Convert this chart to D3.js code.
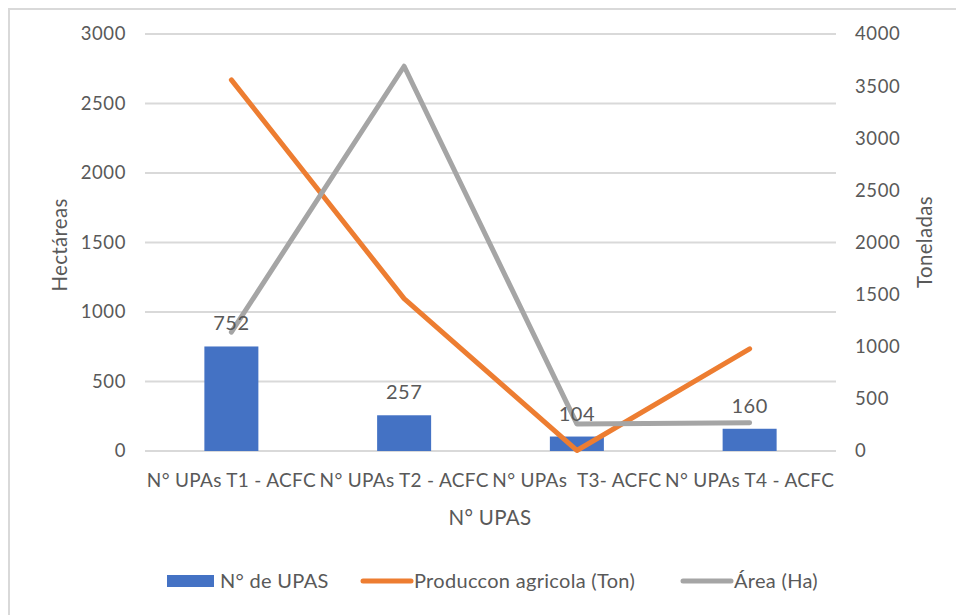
<!DOCTYPE html>
<html>
<head>
<meta charset="utf-8">
<script src="https://cdn.jsdelivr.net/npm/d3@7"></script>
<style>
  html, body { margin: 0; padding: 0; background: #fff; }
  svg { display: block; }
  text { font-family: Lato, "Open Sans", sans-serif; fill: #595959; }
</style>
</head>
<body>
<svg id="chart" width="956" height="615"></svg>
<script>
// Categories (tipologías ACFC)
const categories = ["N° UPAs T1 - ACFC", "N° UPAs T2 - ACFC", "N° UPAs  T3- ACFC", "N° UPAs T4 - ACFC"];
// Number of UPAs (bars, left axis)
const upas = [752, 257, 104, 160];
// Agricultural production in tons (orange line, right axis)
const produccion = [3560, 1462, 5, 980];
// Area in hectares (grey line, left axis)
const area = [855, 2768, 195, 203];
// Tick values
const leftTicks = [0, 500, 1000, 1500, 2000, 2500, 3000];
const rightTicks = [0, 500, 1000, 1500, 2000, 2500, 3000, 3500, 4000];

const svg = d3.select("#chart");
const plot = { left: 145, right: 836, top: 34, bottom: 451 };

// frame around the chart area
svg.append("path")
  .attr("d", `M9,615 V9 H956`)
  .attr("fill", "none").attr("stroke", "#d9d9d9").attr("stroke-width", 2);

const x = d3.scaleBand().domain(categories).range([plot.left, plot.right]).paddingInner(0).paddingOuter(0);
const yL = d3.scaleLinear().domain([0, 3000]).range([plot.bottom, plot.top]);
const yR = d3.scaleLinear().domain([0, 4000]).range([plot.bottom, plot.top]);

// gridlines
svg.append("g").selectAll("line").data(leftTicks).join("line")
  .attr("x1", plot.left).attr("x2", plot.right)
  .attr("y1", d => yL(d)).attr("y2", d => yL(d))
  .attr("stroke", "#d9d9d9").attr("stroke-width", 2);

// left axis
const gL = svg.append("g").attr("transform", `translate(${plot.left},0)`)
  .call(d3.axisLeft(yL).tickValues(leftTicks).tickSize(0).tickPadding(19).tickFormat(d3.format("d")));
gL.select(".domain").remove();
gL.selectAll("text").style("font-size", "18.5px").style("letter-spacing", "0.6px").attr("fill", "#595959");

// right axis
const gR = svg.append("g").attr("transform", `translate(${plot.right},0)`)
  .call(d3.axisRight(yR).tickValues(rightTicks).tickSize(0).tickPadding(19).tickFormat(d3.format("d")));
gR.select(".domain").remove();
gR.selectAll("text").style("font-size", "18.5px").style("letter-spacing", "0.6px").attr("fill", "#595959");

// bars
const barW = 54;
svg.append("g").selectAll("rect").data(upas).join("rect")
  .attr("x", (d, i) => x(categories[i]) + x.bandwidth() / 2 - barW / 2)
  .attr("width", barW)
  .attr("y", d => yL(d))
  .attr("height", d => yL(0) - yL(d))
  .attr("fill", "#4472c4");

// production line (right axis)
const lineR = d3.line().x((d, i) => x(categories[i]) + x.bandwidth() / 2).y(d => yR(d));
svg.append("path").datum(produccion).attr("d", lineR)
  .attr("fill", "none").attr("stroke", "#ed7d31").attr("stroke-width", 5)
  .attr("stroke-linecap", "round").attr("stroke-linejoin", "round");

// area line (left axis)
const lineL = d3.line().x((d, i) => x(categories[i]) + x.bandwidth() / 2).y(d => yL(d));
svg.append("path").datum(area).attr("d", lineL)
  .attr("fill", "none").attr("stroke", "#a5a5a5").attr("stroke-width", 5)
  .attr("stroke-linecap", "round").attr("stroke-linejoin", "round");

// data labels for bars
svg.append("g").selectAll("text").data(upas).join("text")
  .attr("x", (d, i) => x(categories[i]) + x.bandwidth() / 2)
  .attr("y", d => yL(d) - 16)
  .attr("text-anchor", "middle")
  .style("font-size", "20px").style("letter-spacing", "0.5px").attr("fill", "#404040")
  .text(d => d);

// category labels
svg.append("g").selectAll("text").data(categories).join("text")
  .attr("x", d => x(d) + x.bandwidth() / 2)
  .attr("y", 487)
  .attr("text-anchor", "middle")
  .style("font-size", "19px").style("letter-spacing", "0.3px").style("white-space", "pre")
  .attr("xml:space", "preserve")
  .text(d => d);

// axis titles
svg.append("text").attr("x", 490).attr("y", 525).attr("text-anchor", "middle")
  .style("font-size", "20.5px").style("letter-spacing", "0.3px").text("N° UPAS");
svg.append("text").attr("transform", "translate(67,245) rotate(-90)").attr("text-anchor", "middle")
  .style("font-size", "20.5px").style("letter-spacing", "0.3px").text("Hectáreas");
svg.append("text").attr("transform", "translate(932,242) rotate(-90)").attr("text-anchor", "middle")
  .style("font-size", "20.5px").style("letter-spacing", "0.3px").text("Toneladas");

// legend
const legendItems = [
  { label: "N° de UPAS", color: "#4472c4", type: "rect", x: 167 },
  { label: "Produccon agricola (Ton)", color: "#ed7d31", type: "line", x: 361 },
  { label: "Área (Ha)", color: "#a5a5a5", type: "line", x: 681 }
];
const lg = svg.append("g");
legendItems.forEach(it => {
  if (it.type === "rect") {
    lg.append("rect").attr("x", it.x).attr("y", 575).attr("width", 47).attr("height", 12).attr("fill", it.color);
  } else {
    lg.append("line").attr("x1", it.x + 2).attr("x2", it.x + 50).attr("y1", 581).attr("y2", 581)
      .attr("stroke", it.color).attr("stroke-width", 5).attr("stroke-linecap", "round");
  }
  lg.append("text").attr("x", it.x + 53).attr("y", 588).style("font-size", "20px").style("letter-spacing", "0.3px").text(it.label);
});
</script>
</body>
</html>
